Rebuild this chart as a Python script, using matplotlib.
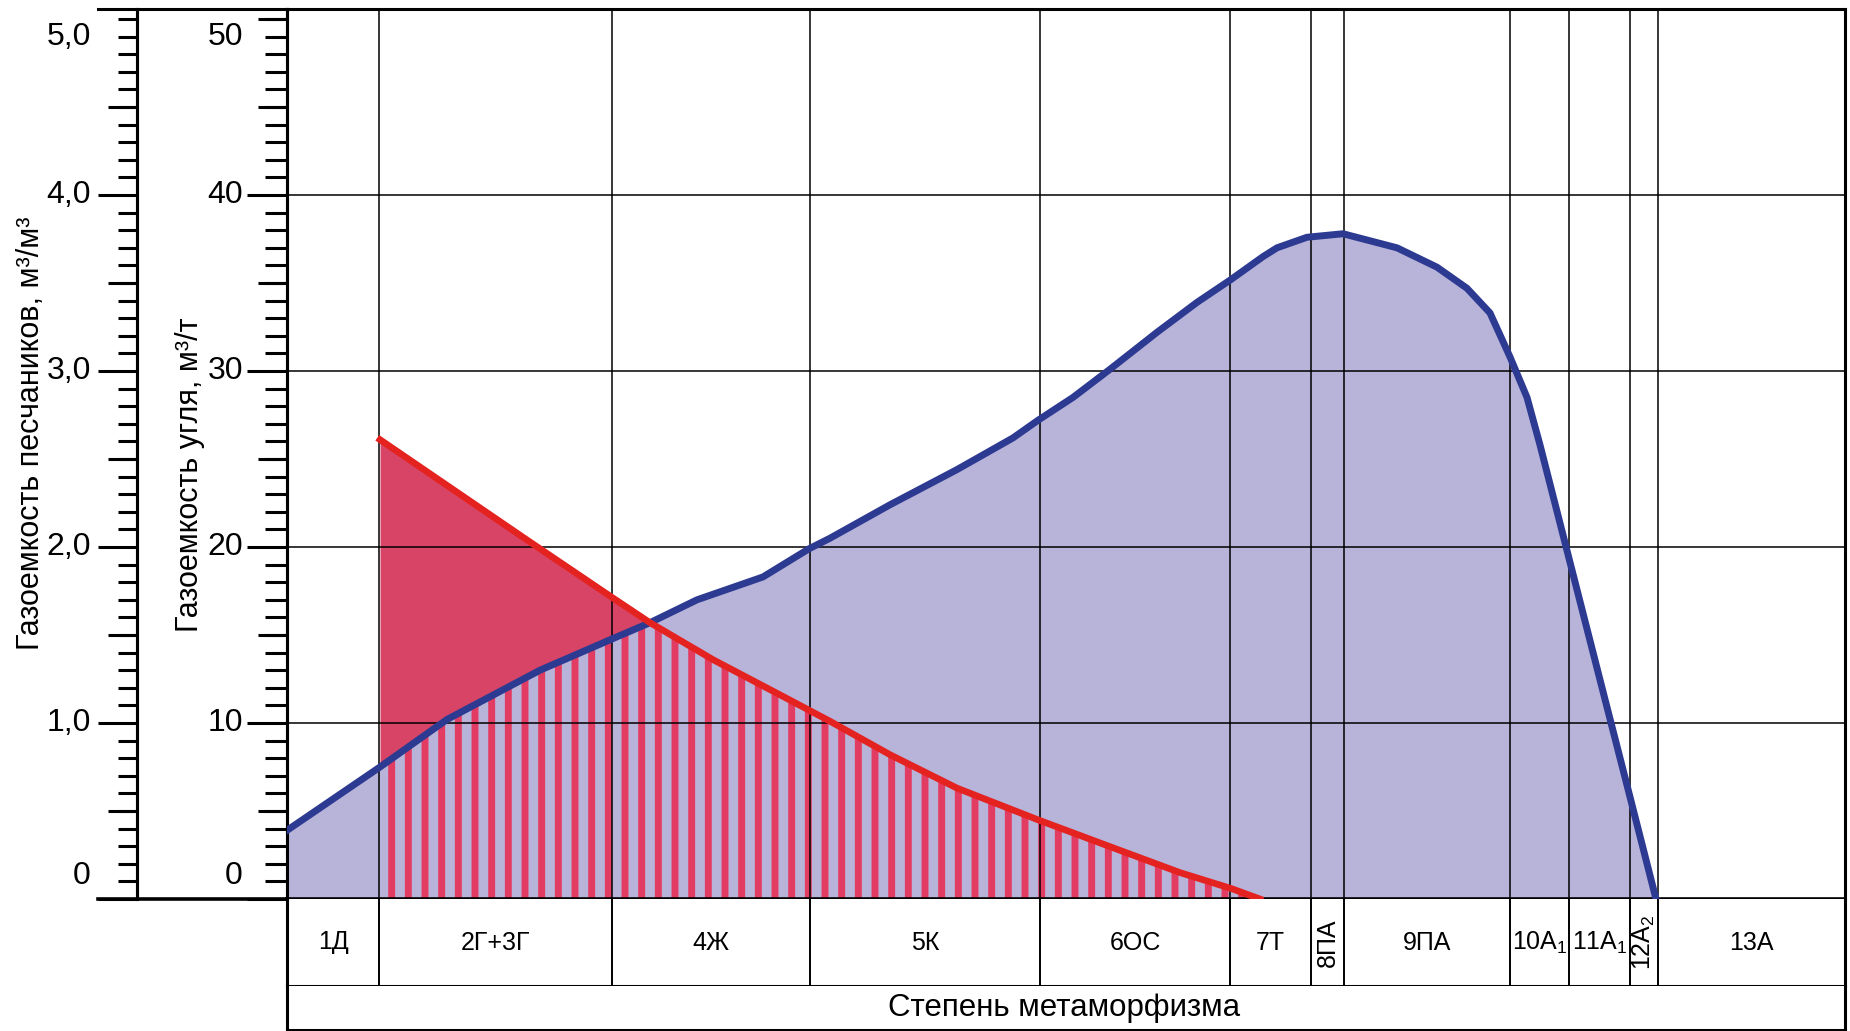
# Газоемкость углей и песчаников по стадиям метаморфизма
import numpy as np
import matplotlib.pyplot as plt
from matplotlib.ticker import MultipleLocator, FixedLocator
from matplotlib.transforms import blended_transform_factory, offset_copy

plt.rcParams['font.family'] = ['Liberation Sans', 'DejaVu Sans']
plt.rcParams['mathtext.fontset'] = 'custom'
plt.rcParams['mathtext.rm'] = 'Liberation Sans'
plt.rcParams['mathtext.it'] = 'Liberation Sans:italic'
plt.rcParams['hatch.linewidth'] = 5.0

# Данные
ranks = ['1Д', '2Г+3Г', '4Ж', '5К', '6ОС', '7Т', '8ПА', '9ПА',
         '10А$_1$', '11А$_1$', '12А$_2$', '13А']
rotated = ['8ПА', '12А$_2$']
# границы стадий по оси метаморфизма (условные единицы)
bounds = [0, 92, 325, 523, 753, 943, 1024, 1057, 1223, 1282, 1343, 1371, 1558]

# газоемкость угля, м3/т
coal_x = [0, 93, 160, 253, 326, 363, 410, 476, 522, 543, 603, 670, 726, 751,
          786, 823, 870, 910, 944, 976, 990, 1020, 1056, 1110, 1150, 1180,
          1203, 1223, 1240, 1253, 1280, 1320, 1343, 1369]
coal_y = [3.9, 7.5, 10.2, 13.0, 14.8, 15.7, 17.0, 18.3, 19.9, 20.5, 22.4, 24.4,
          26.2, 27.2, 28.5, 30.1, 32.2, 33.9, 35.2, 36.5, 37.0, 37.6, 37.8,
          37.0, 35.9, 34.7, 33.3, 30.8, 28.5, 25.8, 19.8, 10.9, 5.8, 0.0]

# газоемкость песчаников, м3/м3
sand_x = [93, 240, 326, 363, 426, 493, 543, 603, 670, 751, 836, 893, 944, 973]
sand_y = [2.61, 2.04, 1.71, 1.57, 1.36, 1.16, 1.01, 0.82, 0.63, 0.45, 0.27,
          0.15, 0.06, 0.0]

coal_ticks = [0, 10, 20, 30, 40, 50]
coal_labels = ['0', '10', '20', '30', '40', '50']
sand_labels = ['0', '1,0', '2,0', '3,0', '4,0', '5,0']

lavender = '#b8b3d9'
blue_line = '#2d3a92'
red_line = '#e42320'
red_fill = '#d84466'
stripe = '#e33c63'

W, H = 1850, 1031
fig = plt.figure(figsize=(W / 100, H / 100), dpi=100)


def add_px_axes(x0, y0, x1, y1):
    return fig.add_axes([x0 / W, 1 - y1 / H, (x1 - x0) / W, (y1 - y0) / H])


YMAX = 50.57
sand_s = np.array(sand_y) * 10  # шкала песчаников в 10 раз мельче

# основное поле
ax = add_px_axes(287, 9, 1845, 899)
ax.set_xlim(bounds[0], bounds[-1])
ax.set_ylim(0, YMAX)
ax.set_axisbelow('line')

xs = np.linspace(sand_x[0], sand_x[-1], 3000)
coal_i = np.interp(xs, coal_x, coal_y)
sand_i = np.interp(xs, sand_x, sand_s)

ax.fill_between(coal_x, 0, coal_y, color=lavender, lw=0, zorder=1)
ax.fill_between(xs, coal_i, sand_i, where=sand_i > coal_i, interpolate=True,
                color=red_fill, lw=0, zorder=1.1)
ax.fill_between(xs, 0, np.minimum(coal_i, sand_i), facecolor='none',
                edgecolor=stripe, hatch='|', lw=0, zorder=1.2)

ax.hlines([10, 20, 30, 40], bounds[0], bounds[-1], color='black', lw=1.1, zorder=1.5)
ax.vlines(bounds[1:-1], 0, YMAX, color='black', lw=1.1, zorder=1.5)

ax.plot(coal_x, coal_y, color=blue_line, lw=5, zorder=3, solid_joinstyle='round')
ax.plot(sand_x, sand_s, color=red_line, lw=4.8, zorder=4, solid_joinstyle='round')

for side in ['top', 'right', 'left']:
    ax.spines[side].set_linewidth(2.2)
ax.spines['bottom'].set_linewidth(2.6)
ax.set_xticks([])
ax.yaxis.set_major_locator(FixedLocator([0, 10, 20, 30, 40]))
ax.yaxis.set_minor_locator(MultipleLocator(1))
ax.tick_params(axis='y', which='major', direction='out', length=28.8, width=2.2, labelleft=False)
ax.tick_params(axis='y', which='minor', direction='out', length=15.8, width=2.2)
sec = ax.secondary_yaxis('left')
sec.set_yticks([5, 15, 25, 35, 45, 50])
sec.tick_params(length=20.9, width=2.2, labelleft=False)
sec.spines['left'].set_linewidth(2.2)

# подписи шкалы угля
label_dy = [23, 0, 0, 0, 0, -18]
base = blended_transform_factory(ax.transAxes, ax.transData)
for v, lab, dy in zip(coal_ticks, coal_labels, label_dy):
    ax.text(0, v, lab, fontsize=23, ha='right', va='center',
            transform=offset_copy(base, fig=fig, x=-44, y=dy, units='dots'))

# шкала песчаников
axs = add_px_axes(98, 9, 287, 899)
axs.patch.set_visible(False)
axs.set_ylim(0, YMAX)
axs.set_xticks([])
axs.spines['right'].set_visible(False)
axs.spines['left'].set_position(('axes', 39 / 189))
axs.spines['left'].set_linewidth(2.2)
axs.spines['top'].set_linewidth(2.2)
axs.spines['bottom'].set_linewidth(2.6)
axs.yaxis.set_major_locator(FixedLocator([0, 10, 20, 30, 40]))
axs.yaxis.set_minor_locator(MultipleLocator(1))
axs.tick_params(axis='y', which='major', direction='out', length=28, width=2.2, labelleft=False)
axs.tick_params(axis='y', which='minor', direction='out', length=13.7, width=2.2)
sec2 = axs.secondary_yaxis(39 / 189)
sec2.set_yticks([5, 15, 25, 35, 45])
sec2.tick_params(length=20.9, width=2.2, labelleft=False)
sec2.spines['left'].set_linewidth(2.2)

base_s = blended_transform_factory(axs.transAxes, axs.transData)
for v, lab, dy in zip(coal_ticks, sand_labels, label_dy):
    axs.text(0, v, lab, fontsize=23, ha='right', va='center',
             transform=offset_copy(base_s, fig=fig, x=-7, y=dy, units='dots'))

fig.text(31 / W, 1 - 433 / H, 'Газоемкость песчаников, м³/м³', rotation=90,
         ha='center', va='center', fontsize=22)
fig.text(190 / W, 1 - 475 / H, 'Газоемкость угля, м³/т', rotation=90,
         ha='center', va='center', fontsize=22)

# таблица стадий метаморфизма
axt = add_px_axes(287, 899, 1845, 986)
axt.set_xlim(bounds[0], bounds[-1])
axt.set_ylim(0, 1)
axt.set_xticks([])
axt.set_yticks([])
axt.spines['top'].set_visible(False)
for side in ['bottom', 'left', 'right']:
    axt.spines[side].set_linewidth(2.2)
axt.vlines(bounds[1:-1], 0, 1, color='black', lw=1.4)
for i, lab in enumerate(ranks):
    mid = (bounds[i] + bounds[i + 1]) / 2
    axt.text(mid, 0.5, lab, fontsize=18, ha='center', va='center',
             rotation=90 if lab in rotated else 0)

axb = add_px_axes(287, 986, 1845, 1030)
axb.set_xticks([])
axb.set_yticks([])
axb.spines['top'].set_visible(False)
for side in ['bottom', 'left', 'right']:
    axb.spines[side].set_linewidth(2.2)
axb.text(0.499, 0.5, 'Степень метаморфизма', fontsize=22.5, ha='center', va='center',
         transform=axb.transAxes)

fig.savefig('out.png', dpi=100)
